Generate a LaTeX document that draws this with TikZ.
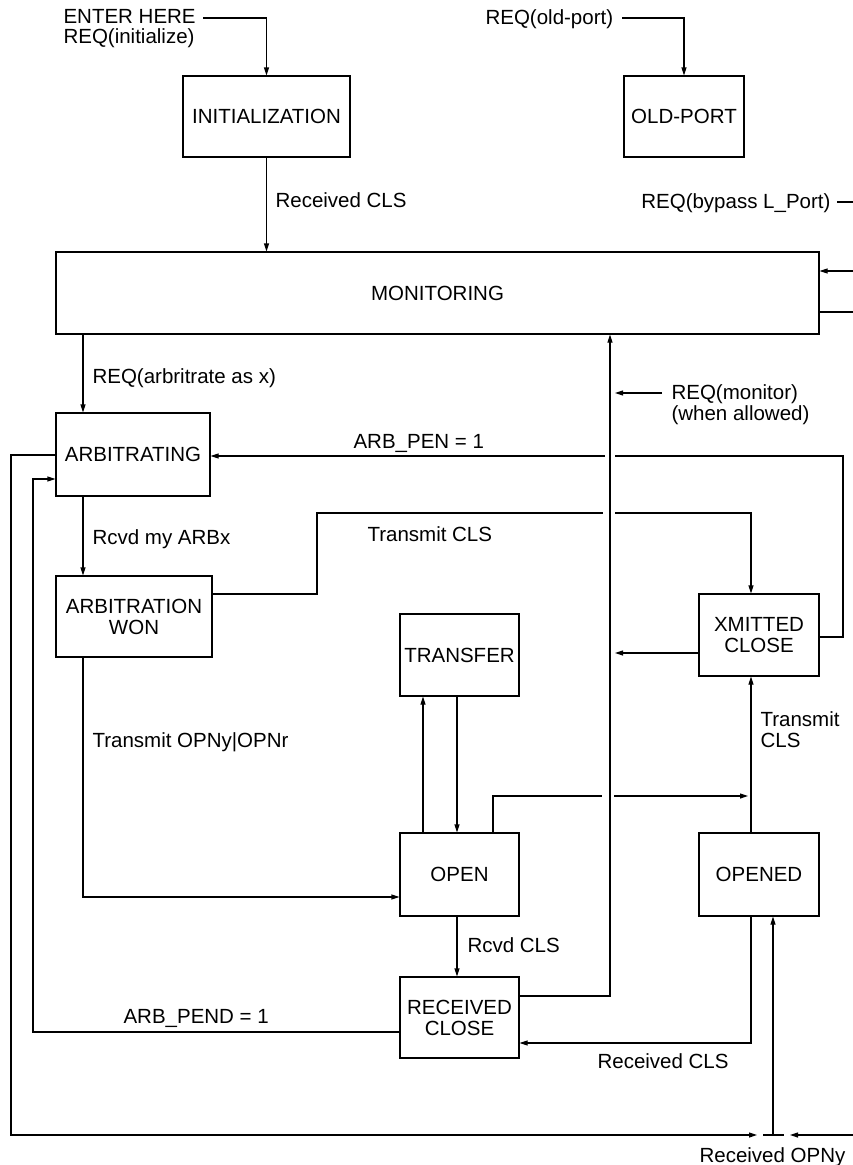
\documentclass[tikz,border=0pt]{standalone}
\usepackage{fontspec}
\setmainfont{Liberation Sans}
\usetikzlibrary{arrows.meta}
\newcommand{\lblfont}{\fontsize{20.5pt}{21pt}\selectfont}
\begin{document}
\begin{tikzpicture}[x=1pt,y=-1pt, line width=1.1pt,
  box/.style={draw, line width=1.1pt, inner sep=0pt, align=center, font=\lblfont},
  lbl/.style={inner sep=0pt, font=\lblfont},
  arr/.style={-{Triangle[length=8pt,width=5pt]}}]
\useasboundingbox (0,0) rectangle (852,1165);

% boxes
\node[box, minimum width=167pt, minimum height=81pt] (init) at (266.5,116.5) {INITIALIZATION};
\node[box, minimum width=120pt, minimum height=81pt] (oldport) at (684,116.5) {OLD-PORT};
\node[box, minimum width=763pt, minimum height=82pt] (monitor) at (437.5,293) {MONITORING};
\node[box, minimum width=154pt, minimum height=83pt] (arbing) at (133,454.5) {ARBITRATING};
\node[box, minimum width=156pt, minimum height=81pt] (arbwon) at (134,616.5) {ARBITRATION\\WON};
\node[box, minimum width=119pt, minimum height=82pt] (transfer) at (459.5,655) {TRANSFER};
\node[box, minimum width=120pt, minimum height=82pt] (xmit) at (759,635) {XMITTED\\CLOSE};
\node[box, minimum width=119pt, minimum height=83pt] (open) at (459.5,874.5) {OPEN};
\node[box, minimum width=120pt, minimum height=83pt] (opened) at (759,874.5) {OPENED};
\node[box, minimum width=119pt, minimum height=81pt] (rcvclose) at (459.5,1017.5) {RECEIVED\\CLOSE};

% labels
\node[lbl, anchor=base west] (enter1) at (63,23) {ENTER HERE};
\node[lbl, anchor=base west] (enter2) at (63,43) {REQ(initialize)};
\node[lbl, anchor=base west] (lrc1) at (275,207) {Received CLS};
\node[lbl, anchor=base west] (lold) at (485,24) {REQ(old-port)};
\node[lbl, anchor=base east] (lbyp) at (831,208) {REQ(bypass L\_Port)};
\node[lbl, anchor=base west] (larb) at (92,383) {REQ(arbritrate as x)};
\node[lbl, anchor=base west] (lpen) at (353,448) {ARB\_PEN = 1};
\node[lbl, anchor=base west] (lmy) at (92,544) {Rcvd my ARBx};
\node[lbl, anchor=base west] (ltcls) at (367,541) {Transmit CLS};
\node[lbl, anchor=base west] (lmon1) at (671,399) {REQ(monitor)};
\node[lbl, anchor=base west] (lmon2) at (671,420) {(when allowed)};
\node[lbl, anchor=base west] (lopn) at (92,747) {Transmit OPNy|OPNr};
\node[lbl, anchor=base west] (lpend) at (123,1023) {ARB\_PEND = 1};
\node[lbl, anchor=base west] (ltr1) at (760,726) {Transmit};
\node[lbl, anchor=base west] (ltr2) at (760,747) {CLS};
\node[lbl, anchor=base west] (lrcvd) at (467,952) {Rcvd CLS};
\node[lbl, anchor=base west] (lrc2) at (597,1068) {Received CLS};
\node[lbl, anchor=base west] (lopny) at (699,1162) {Received OPNy};

% free ends
\coordinate (enterout) at (203,18);
\coordinate (oldout) at (622,18);
\coordinate (bypa) at (837,202);
\coordinate (bypb) at (853,202);
\coordinate (monin) at (853,271);
\coordinate (monout) at (853,312);
\coordinate (reqmon) at (662,393);
\coordinate (opnyin) at (853,1135);

% connectors
\draw[arr] (enterout) -| (init.north);
\draw[arr] (init.south) -- (init.south |- monitor.north);
\draw[arr] (oldout) -| (oldport.north);
\draw (bypa) -- (bypb);
\draw[arr] (monin) -- (monitor.east |- monin);
\draw (monitor.east |- monout) -- (monout);

\draw[arr] (83,0 |- monitor.south) -- (83,0 |- arbing.north);
\draw[arr] (83,0 |- arbing.south) -- (83,0 |- arbwon.north);
\draw[arr] (83,0 |- arbwon.south) -- (83,897) -- (open.west |- 0,897);

\draw (arbwon.east |- 0,594) -- (317,594) -- (317,513) -- (603,513);
\draw[arr] (615,513) -| (751,0 |- xmit.north);

\draw (xmit.east |- 0,637) -| (843,456) -- (615,456);
\draw[arr] (605,456) -- (arbing.east |- 0,456);

\draw[arr] (xmit.west |- 0,653) -- (615,653);
\draw[arr] (rcvclose.east |- 0,996) -| (610,0 |- monitor.south);
\draw[arr] (reqmon) -- (615,393);

\draw[arr] (423,0 |- open.north) -- (423,0 |- transfer.south);
\draw[arr] (457,0 |- transfer.south) -- (457,0 |- open.north);
\draw (493,0 |- open.north) |- (602,796);
\draw[arr] (614,796) -- (748,796);
\draw[arr] (751,0 |- opened.north) -- (751,0 |- xmit.south);
\draw[arr] (457,0 |- open.south) -- (457,0 |- rcvclose.north);
\draw[arr] (751,0 |- opened.south) |- (rcvclose.east |- 0,1043);

\draw[arr] (rcvclose.west |- 0,1032) -| (33,479) -- (arbing.west |- 0,479);
\draw[arr] (arbing.west |- 0,455) -| (11,1135) -- (757,1135);
\draw (763,1135) -- (784,1135);
\draw[arr] (773,1135) -- (773,0 |- opened.south);
\draw[arr] (opnyin) -- (790,1135);
\end{tikzpicture}
\end{document}
